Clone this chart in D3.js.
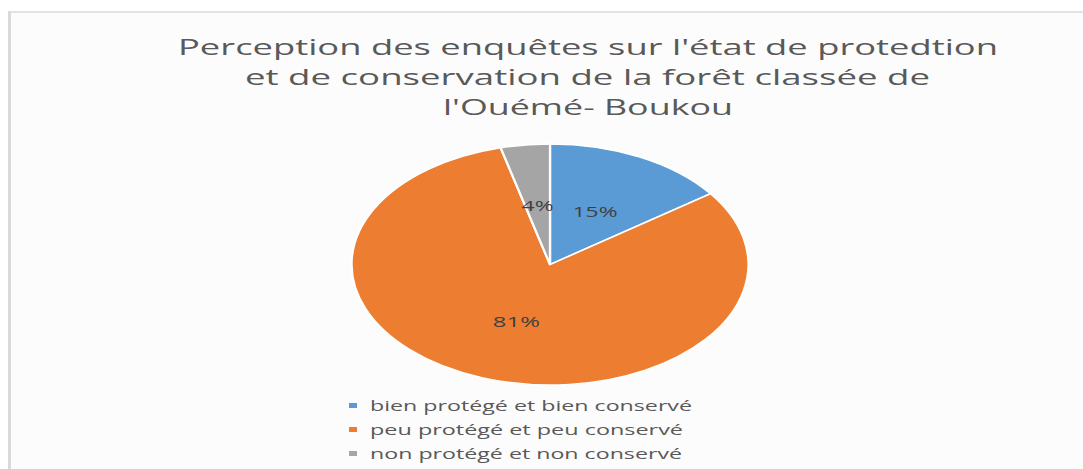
<!DOCTYPE html>
<html>
<head>
<meta charset="utf-8">
<script src="https://cdn.jsdelivr.net/npm/d3@7"></script>
<style>
  html, body { margin: 0; padding: 0; background: #ffffff; }
  svg { display: block; }
</style>
</head>
<body>
<div id="chart"></div>
<script>
// ---- data ----
const categories = [
  "bien protégé et bien conservé",
  "peu protégé et peu conservé",
  "non protégé et non conservé"
];
const values = [15, 81, 4];
const valueLabels = ["15%", "81%", "4%"];
const colors = ["#5B9BD5", "#ED7D31", "#A5A5A5"];
const titleLines = [
  "Perception des enquêtes sur l'état de protedtion",
  "et de conservation de la forêt classée de",
  "l'Ouémé- Boukou"
];

// ---- layout ----
const W = 1083, H = 469;
const sx = 1.647;           // horizontal stretch of the source picture
const cx = 550, cy = 264.5, R = 120.5;

const svg = d3.select("#chart").append("svg")
  .attr("width", W).attr("height", H);

// chart area + frame
svg.append("rect").attr("x", 10).attr("y", 12).attr("width", W - 10).attr("height", H - 12)
  .attr("fill", "#fcfcfc");
svg.append("line").attr("x1", 9.5).attr("x2", 9.5).attr("y1", 11).attr("y2", H)
  .attr("stroke", "#d9d9d9").attr("stroke-width", 3);
svg.append("line").attr("x1", 8).attr("x2", W).attr("y1", 12).attr("y2", 12)
  .attr("stroke", "#d9d9d9").attr("stroke-width", 1.5);

// title
const titleX = [178, 245, 443];
const titleW = [820, 685, 290];
svg.append("g").selectAll("text").data(titleLines).join("text")
  .attr("x", (d, i) => titleX[i])
  .attr("y", (d, i) => 55 + i * 30)
  .attr("textLength", (d, i) => titleW[i])
  .attr("lengthAdjust", "spacingAndGlyphs")
  .attr("font-family", "'Open Sans', sans-serif")
  .attr("font-size", 21)
  .attr("fill", "#595959")
  .text(d => d);

// pie
const pie = d3.pie().sort(null).value(d => d);
const arcs = pie(values);
const arc = d3.arc().innerRadius(0).outerRadius(R);

const pg = svg.append("g").attr("transform", `translate(${cx},${cy}) scale(${sx},1)`);
pg.selectAll("path").data(arcs).join("path")
  .attr("d", arc)
  .attr("fill", (d, i) => colors[i])
  .attr("stroke", "#ffffff")
  .attr("stroke-width", 1.4);

// data labels
const labelW = [45, 47, 32];
svg.append("g").selectAll("text").data(arcs).join("text")
  .attr("x", d => cx + arc.centroid(d)[0] * sx - 0)
  .attr("y", d => cy + arc.centroid(d)[1])
  .attr("text-anchor", "middle")
  .attr("dominant-baseline", "central")
  .attr("textLength", (d, i) => labelW[i])
  .attr("lengthAdjust", "spacingAndGlyphs")
  .attr("font-family", "'Open Sans', sans-serif")
  .attr("font-size", 15)
  .attr("fill", "#404040")
  .text((d, i) => valueLabels[i]);

// legend
const legW = [322, 313, 312];
const lg = svg.append("g");
const rows = lg.selectAll("g").data(categories).join("g")
  .attr("transform", (d, i) => `translate(0,${411 + i * 24})`);
rows.append("rect")
  .attr("x", 349).attr("y", -8).attr("width", 8).attr("height", 5)
  .attr("fill", (d, i) => colors[i]);
rows.append("text")
  .attr("x", 370).attr("y", 0)
  .attr("textLength", (d, i) => legW[i])
  .attr("lengthAdjust", "spacingAndGlyphs")
  .attr("font-family", "'Open Sans', sans-serif")
  .attr("font-size", 15)
  .attr("fill", "#595959")
  .text(d => d);
</script>
</body>
</html>
